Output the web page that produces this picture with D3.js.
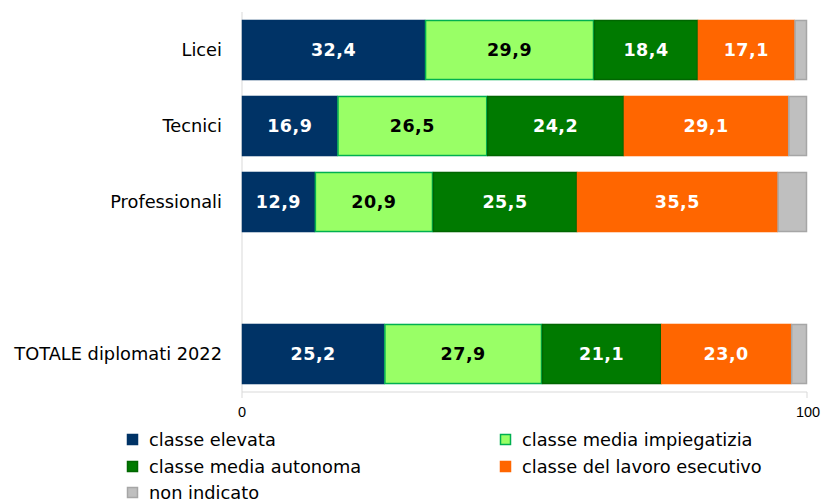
<!DOCTYPE html>
<html>
<head>
<meta charset="utf-8">
<script src="https://cdn.jsdelivr.net/npm/d3@7"></script>
<style>
  body { margin: 0; background: #fff; }
  svg { display: block; }
</style>
</head>
<body>
<div id="chart"></div>
<script>
const width = 823, height = 504,
    margin = { top: 12, right: 15, bottom: 112, left: 242 };

// categories (blank slot between the school types and the total)
const categories = ["Licei", "Tecnici", "Professionali", "", "TOTALE diplomati 2022"];
const series = ["classe elevata", "classe media impiegatizia", "classe media autonoma",
    "classe del lavoro esecutivo", "non indicato"];
const elevata = [32.4, 16.9, 12.9, null, 25.2];
const impiegatizia = [29.9, 26.5, 20.9, null, 27.9];
const autonoma = [18.4, 24.2, 25.5, null, 21.1];
const esecutivo = [17.1, 29.1, 35.5, null, 23.0];
const nonIndicato = [2.2, 3.3, 5.2, null, 2.8];
const xTicks = [0, 100];

const fills = ["#003366", "#99ff66", "#007a00", "#ff6600", "#bfbfbf"];
const strokes = ["#003366", "#00b050", "#006600", "#ff6600", "#a6a6a6"];
const textColors = ["#fff", "#000", "#fff", "#fff", "none"];

const rows = categories.map((c, i) => ({
    cat: c,
    vals: [elevata[i], impiegatizia[i], autonoma[i], esecutivo[i], nonIndicato[i]]
})).filter(r => r.vals[0] !== null);

const svg = d3.select("#chart").append("svg")
    .attr("width", width).attr("height", height);

const x = d3.scaleLinear().domain([0, 100])
    .range([margin.left, 807]);
const y = d3.scaleBand().domain(categories)
    .range([margin.top, height - margin.bottom])
    .paddingInner(0.21).paddingOuter(0.105);

// axes lines
svg.append("line")
    .attr("x1", x(0)).attr("x2", x(0))
    .attr("y1", margin.top).attr("y2", height - margin.bottom + 6)
    .attr("stroke", "#d9d9d9");
svg.append("line")
    .attr("x1", x(0)).attr("x2", x(100))
    .attr("y1", height - margin.bottom).attr("y2", height - margin.bottom)
    .attr("stroke", "#d9d9d9");
svg.append("line")
    .attr("x1", x(100)).attr("x2", x(100))
    .attr("y1", height - margin.bottom).attr("y2", height - margin.bottom + 6)
    .attr("stroke", "#d9d9d9");

svg.selectAll("text.tick").data(xTicks).join("text")
    .attr("class", "tick")
    .attr("x", d => x(d) + (d === 100 ? 1 : 0)).attr("y", height - margin.bottom + 25)
    .attr("text-anchor", "middle")
    .attr("font-family", "Liberation Sans, Arial, sans-serif")
    .attr("font-size", 14.5).attr("fill", "#000")
    .text(d => d);

// category labels
svg.selectAll("text.cat").data(rows).join("text")
    .attr("class", "cat")
    .attr("x", margin.left - 20)
    .attr("y", d => y(d.cat) + y.bandwidth() / 2)
    .attr("dy", "0.35em")
    .attr("text-anchor", "end")
    .attr("font-family", "DejaVu Sans, Verdana, sans-serif")
    .attr("font-size", 17.8).attr("fill", "#000")
    .text(d => d.cat);

// stacked segments
const segs = [];
rows.forEach(r => {
    let acc = 0;
    r.vals.forEach((v, k) => {
        segs.push({ cat: r.cat, k, v, x0: acc, x1: acc + v });
        acc += v;
    });
});

svg.selectAll("rect.seg").data(segs).join("rect")
    .attr("class", "seg")
    .attr("x", d => x(d.x0) + 0.5)
    .attr("y", d => y(d.cat) + 0.5)
    .attr("width", d => Math.max(0, x(d.x1) - x(d.x0) - 1))
    .attr("height", y.bandwidth() - 1)
    .attr("fill", d => fills[d.k])
    .attr("stroke", d => strokes[d.k])
    .attr("stroke-width", 1.5);

svg.selectAll("text.val").data(segs.filter(d => d.k < 4)).join("text")
    .attr("class", "val")
    .attr("x", d => (x(d.x0) + x(d.x1)) / 2)
    .attr("y", d => y(d.cat) + y.bandwidth() / 2)
    .attr("dy", "0.36em")
    .attr("text-anchor", "middle")
    .attr("font-family", "DejaVu Sans, Verdana, sans-serif")
    .attr("font-weight", "bold")
    .attr("font-size", 17.5)
    .attr("letter-spacing", 0.5)
    .attr("fill", d => textColors[d.k])
    .text(d => d.v.toFixed(1).replace(".", ","));

// legend
const legendPos = [
    { x: 127, y: 440 }, { x: 500, y: 440 },
    { x: 127, y: 467 }, { x: 500, y: 467 },
    { x: 127, y: 493 }
];
const lg = svg.selectAll("g.legend").data(series).join("g")
    .attr("class", "legend")
    .attr("transform", (d, i) => `translate(${legendPos[i].x},${legendPos[i].y})`);
lg.append("rect")
    .attr("x", 0.5).attr("y", -5.5)
    .attr("width", 10).attr("height", 10)
    .attr("fill", (d, i) => fills[i])
    .attr("stroke", (d, i) => strokes[i])
    .attr("stroke-width", 1.5);
lg.append("text")
    .attr("x", 22).attr("dy", "0.35em")
    .attr("font-family", "DejaVu Sans, Verdana, sans-serif")
    .attr("font-size", 17.8).attr("fill", "#000")
    .text(d => d);
</script>
</body>
</html>
